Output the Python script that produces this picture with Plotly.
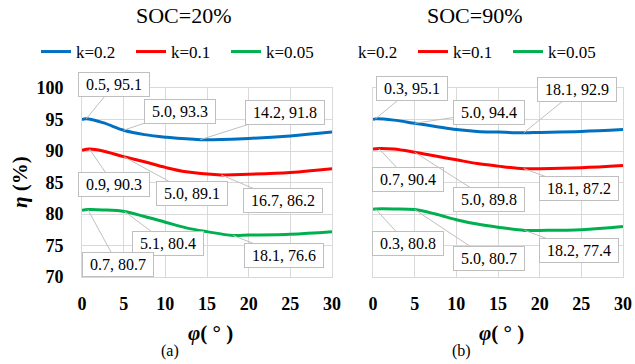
import plotly.graph_objects as go

# ---------------- data ----------------
# SOC = 20 %
L_k02_x = [0, 0.5, 2.5, 5, 7.5, 10, 14.2, 20, 25, 30]
L_k02_y = [95.0, 95.1, 94.5, 93.3, 92.6, 92.2, 91.8, 92.0, 92.4, 93.0]
L_k01_x = [0, 0.9, 2.5, 5, 7.5, 10, 12.5, 16.7, 20, 25, 30]
L_k01_y = [90.1, 90.3, 90.0, 89.1, 88.3, 87.4, 86.7, 86.2, 86.3, 86.6, 87.2]
L_k005_x = [0, 0.7, 2.5, 5.1, 7.5, 10, 12.5, 15, 18.1, 20, 25, 30]
L_k005_y = [80.6, 80.7, 80.65, 80.4, 79.6, 78.7, 77.8, 77.2, 76.6, 76.65, 76.8, 77.2]

# SOC = 90 %
R_k02_x = [0, 0.3, 2.5, 5, 7.5, 10, 12.5, 15, 18.1, 20, 25, 30]
R_k02_y = [95.0, 95.1, 94.9, 94.4, 93.9, 93.4, 93.1, 93.0, 92.9, 92.95, 93.1, 93.4]
R_k01_x = [0, 0.7, 2.5, 5, 7.5, 10, 12.5, 15, 18.1, 20, 25, 30]
R_k01_y = [90.3, 90.4, 90.3, 89.8, 89.2, 88.6, 88.0, 87.6, 87.2, 87.2, 87.35, 87.7]
R_k005_x = [0, 0.3, 2.5, 5, 7.5, 10, 12.5, 15, 18.2, 20, 25, 30]
R_k005_y = [80.75, 80.8, 80.8, 80.7, 80.0, 79.1, 78.4, 77.9, 77.4, 77.4, 77.5, 78.0]

# labelled points
L_lab_x = [0.5, 5.0, 14.2, 0.9, 5.0, 16.7, 5.1, 0.7, 18.1]
L_lab_y = [95.1, 93.3, 91.8, 90.3, 89.1, 86.2, 80.4, 80.7, 76.6]
R_lab_x = [0.3, 5.0, 18.1, 0.7, 5.0, 18.1, 0.3, 5.0, 18.2]
R_lab_y = [95.1, 94.4, 92.9, 90.4, 89.8, 87.2, 80.8, 80.7, 77.4]

series_names = ["k=0.2", "k=0.1", "k=0.05"]
panel_titles = ["SOC=20%", "SOC=90%"]
panel_tags = ["(a)", "(b)"]
x_ticks = [0, 5, 10, 15, 20, 25, 30]
y_ticks = [70, 75, 80, 85, 90, 95, 100]

# ---------------- style / layout ----------------
W, H = 635, 364
COLORS = ["#0070C0", "#FF0000", "#00B050"]
GRID = "#D9D9D9"
FONT = "Liberation Serif, serif"

# label box offsets (pixels) for each labelled point
L_off = [(28, -34), (56, -19), (85, -27), (24, 35), (68, 37), (62, 26), (43, 32), (30, 55), (51, 20)]
R_off = [(36, -30), (74, -11), (53, -43), (29, 31), (74, 47), (55, 20), (32, 35), (74, 49), (54, 20)]

fig = go.Figure()

left = [(L_k02_x, L_k02_y), (L_k01_x, L_k01_y), (L_k005_x, L_k005_y)]
right = [(R_k02_x, R_k02_y), (R_k01_x, R_k01_y), (R_k005_x, R_k005_y)]

for i, (xs, ys) in enumerate(left):
    fig.add_trace(go.Scatter(x=xs, y=ys, mode="lines", name=series_names[i],
                             line=dict(color=COLORS[i], width=3, shape="spline", smoothing=1.0),
                             xaxis="x", yaxis="y", legend="legend"))
# right-hand legend shows k=0.2 without its line sample
fig.add_trace(go.Scatter(x=[None], y=[None], mode="lines", name=series_names[0],
                         line=dict(color="rgba(0,0,0,0)", width=3),
                         xaxis="x2", yaxis="y2", legend="legend2"))
for i, (xs, ys) in enumerate(right):
    fig.add_trace(go.Scatter(x=xs, y=ys, mode="lines", name=series_names[i],
                             line=dict(color=COLORS[i], width=3, shape="spline", smoothing=1.0),
                             xaxis="x2", yaxis="y2", legend="legend2",
                             showlegend=(i != 0)))

annots = []
def lab(xv, yv, off, xr, yr):
    annots.append(dict(x=xv, y=yv, xref=xr, yref=yr, ax=off[0], ay=off[1],
                       text="\u00a0" + f"{xv:.1f}, {yv:.1f}" + "\u00a0",
                       showarrow=True, arrowhead=0, arrowwidth=1, arrowcolor="#BFBFBF",
                       standoff=0, startstandoff=0,
                       bgcolor="white", bordercolor="#BFBFBF", borderwidth=1, borderpad=3,
                       font=dict(family=FONT, size=16, color="black")))

for xv, yv, off in zip(L_lab_x, L_lab_y, L_off):
    lab(xv, yv, off, "x", "y")
for xv, yv, off in zip(R_lab_x, R_lab_y, R_off):
    lab(xv, yv, off, "x2", "y2")

def ptext(text, px, py, size, **kw):
    annots.append(dict(x=px / W, y=1 - py / H, xref="paper", yref="paper", text=text,
                       showarrow=False, xanchor="center", yanchor="middle",
                       font=dict(family=FONT, size=size, color="black"), **kw))

ptext(panel_titles[0], 184, 16, 22)
ptext(panel_titles[1], 475, 16, 22)
ptext("<b><i>η</i> (%)</b>", 20, 182, 21, textangle=-90)
ptext("<b><i>φ</i>( ° )</b>", 210, 333, 21)
ptext("<b><i>φ</i>( ° )</b>", 501, 333, 21)
ptext(panel_tags[0], 170, 351, 16)
ptext(panel_tags[1], 461, 351, 16)

y_dom = [1 - 277 / H, 1 - 88 / H]
axis_common = dict(showgrid=True, gridcolor=GRID, gridwidth=1, zeroline=False,
                   showline=True, linecolor=GRID, linewidth=1, mirror=True, ticks="",
                   tickfont=dict(family=FONT, size=18, color="black", weight="bold"))

fig.update_layout(
    width=W, height=H, margin=dict(l=0, r=0, t=0, b=0, autoexpand=False),
    paper_bgcolor="white", plot_bgcolor="white",
    showlegend=True,
    xaxis=dict(domain=[82 / W, 332 / W], range=[0, 30], tickvals=x_ticks, anchor="y",
               ticklabelstandoff=10, **axis_common),
    yaxis=dict(domain=y_dom, range=[70, 100], tickvals=y_ticks, anchor="x",
               ticklabelstandoff=14, **axis_common),
    xaxis2=dict(domain=[373 / W, 623 / W], range=[0, 30], tickvals=x_ticks, anchor="y2",
                ticklabelstandoff=10, **axis_common),
    yaxis2=dict(domain=y_dom, range=[70, 100], tickvals=y_ticks, anchor="x2",
                showticklabels=False, **axis_common),
    legend=dict(orientation="h", x=36 / W, y=1 - 52 / H, xanchor="left", yanchor="middle",
                font=dict(family=FONT, size=17, color="black"), entrywidth=50,
                bgcolor="rgba(0,0,0,0)", itemclick=False),
    legend2=dict(orientation="h", x=318 / W, y=1 - 52 / H, xanchor="left", yanchor="middle",
                 font=dict(family=FONT, size=17, color="black"), entrywidth=50,
                 bgcolor="rgba(0,0,0,0)", itemclick=False),
    annotations=annots,
)

fig.write_html("out.html")
